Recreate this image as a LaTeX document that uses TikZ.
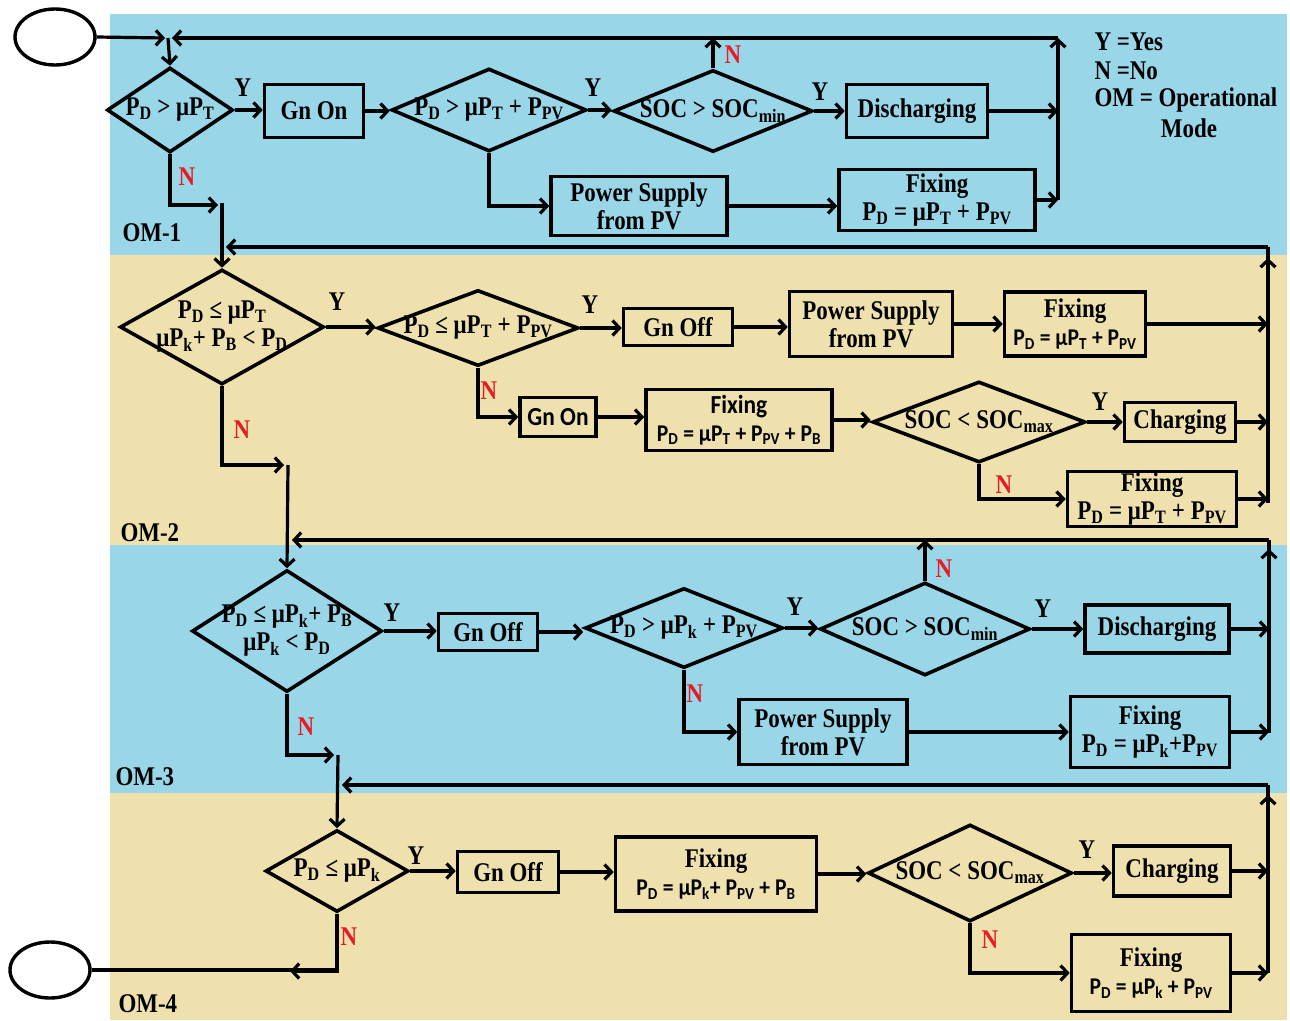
\documentclass[tikz,border=0pt]{standalone}
\usepackage{fontspec}
\setmainfont{Liberation Serif}[FakeStretch=0.85]
\newfontfamily\calfont{Carlito}[FakeStretch=0.9]
\usetikzlibrary{shapes.geometric,arrows.meta}

\definecolor{omblue}{RGB}{152,214,232}
\definecolor{omtan}{RGB}{238,225,174}
\definecolor{nored}{RGB}{228,28,36}
\newcommand{\lo}[1]{\textsubscript{#1}}
\newcommand{\calsm}{\calfont\fontsize{24}{28}\selectfont}

\begin{document}
\begin{tikzpicture}[x=1pt, y=-1pt,
  every node/.style={font=\fontsize{27}{28}\selectfont\bfseries},
  dec/.style={diamond, draw, line width=3.6pt, inner sep=0pt},
  box/.style={draw, line width=3.6pt, inner sep=0pt, align=center},
  cal/.style={font=\calfont\fontsize{26}{28}\selectfont\bfseries},
  term/.style={ellipse, draw, line width=3.4pt, minimum width=80, minimum height=56},
  arr/.style={line width=3.2pt, -{Straight Barb[length=7pt,width=15pt]}},
  ln/.style={line width=3.2pt},
  nolab/.style={text=nored}]

\useasboundingbox (0,0) rectangle (1290,1020);

% -------- bands -----------
\fill[omblue] (110,14)  rectangle (1287,255);
\fill[omtan]  (110,255) rectangle (1287,545);
\fill[omblue] (110,545) rectangle (1287,793);
\fill[omtan]  (110,793) rectangle (1287,1020);

\node[anchor=west]  (om1)  at  (119, 233) {OM-1};
\node[anchor=west]  (om2)  at  (117, 533) {OM-2};
\node[anchor=west]  (om3)  at  (112, 777) {OM-3};
\node[anchor=west]  (om4)  at  (115,1004) {OM-4};

\node[anchor=west]  (key1)  at  (1091, 42) {Y =Yes};
\node[anchor=west]  (key2)  at  (1091, 71) {N =No};
\node[anchor=west]  (key3)  at  (1091,100) {OM = Operational};
\node               (key4)  at  (1189,128) {Mode};

% -------- OM-1 -----------
\node[term]  (start)  at  (55,37) {};
\coordinate  (j1)  at  (168,38);
\coordinate  (c1top)  at  (1058,38);
\coordinate  (c1bot)  at  (1058,200);

\node[dec, minimum width=126, minimum height=85, label={center:{P\lo{D} > μP\lo{T}}}]  (d1)  at  (170,110) {};
\node[box, minimum width=99, minimum height=53]  (b1)  at  (314,111) {Gn On};
\node[dec, minimum width=195, minimum height=83, label={center:{P\lo{D} > μP\lo{T} + P\lo{PV}}}]  (d2)  at  (489,110) {};
\node[dec, minimum width=199, minimum height=82, label={center:{SOC > SOC\lo{min}}}]  (d3)  at  (713,111) {};
\node[box, minimum width=141, minimum height=53]  (b2)  at  (917,111) {Discharging};
\node[box, minimum width=176, minimum height=59]  (b3)  at  (639,206) {Power Supply\\from PV};
\node[box, minimum width=196, minimum height=61]  (b4)  at  (937,200) {Fixing\\P\lo{D} = μP\lo{T} + P\lo{PV}};

\node  (y1)  at  (243, 88) {Y};
\node  (y2)  at  (593, 88) {Y};
\node  (y3)  at  (820, 92) {Y};
\node[nolab]  (n1)  at  (733, 55) {N};
\node[nolab]  (n2)  at  (187,177) {N};

\draw   [arr]   (start.east) -- ([xshift=-3pt]j1);
\draw   [arr]   (j1) -- (d1.north);
\draw   [arr]   (d1.east) -- (d1.east -| b1.west);
\draw   [arr]   (b1.east) -- (b1.east -| d2.west);
\draw   [arr]   (d2.east) -- (d2.east -| d3.west);
\draw   [arr]   (d3.east) -- (d3.east -| b2.west);
\draw   [arr]   (d3.north) -- (d3.north |- c1top);
\draw   [arr]   (d2.south) |- (b3.west);
\draw   [arr]   (b3.east) -- (b3.east -| b4.west);
\draw   [arr]   (b2.east) -- (b2.east -| c1top);
\draw   [arr]   (b4.east) -- (b4.east -| c1top);
\draw   [arr]   (c1bot) -- (c1top);
\draw   [arr]   (c1top) -- ([xshift=4pt]j1);

% -------- OM-2 -----------
\coordinate  (j2)  at  (222,205);
\coordinate  (c2top)  at  (1268,247);
\coordinate  (c2bot)  at  (1268,503);

\node[dec, minimum width=204, minimum height=115, label={[align=center]center:{P\lo{D} ≤ μP\lo{T}\\μP\lo{k}+ P\lo{B} < P\lo{D}}}]  (d4)  at  (222,327) {};
\node[dec, minimum width=201, minimum height=76, label={center:{P\lo{D} ≤ μP\lo{T} + P\lo{PV}}}]  (d5)  at  (478,328) {};
\node[box, minimum width=109, minimum height=37]  (b5)  at  (678,327) {Gn Off};
\node[box, minimum width=163, minimum height=65]  (b6)  at  (871,324) {Power Supply\\from PV};
\node[box, minimum width=141, minimum height=64]  (b7)  at  (1075,324) {Fixing\\{\calsm P\lo{D} = μP\lo{T} + P\lo{PV}}};
\node[box, cal, minimum width=76, minimum height=39]  (b8)  at  (558,417) {Gn On};
\node[box, cal, minimum width=186, minimum height=61]  (b9)  at  (739,420) {Fixing\\{\calsm P\lo{D} = μP\lo{T} + P\lo{PV} + P\lo{B}}};
\node[dec, minimum width=213, minimum height=81, label={center:{SOC < SOC\lo{max}}}]  (d6)  at  (979,422) {};
\node[box, minimum width=111, minimum height=39]  (b10)  at  (1180,422) {Charging};
\node[box, minimum width=169, minimum height=55]  (b11)  at  (1152,499) {Fixing\\P\lo{D} = μP\lo{T} + P\lo{PV}};

\node  (y4)  at  (337,302) {Y};
\node  (y5)  at  (590,305) {Y};
\node  (y6)  at  (1100,402) {Y};
\node[nolab]  (n3)  at  (489,391) {N};
\node[nolab]  (n4)  at  (242,430) {N};
\node[nolab]  (n5)  at  (1004,485) {N};

\draw   [arr]   (d1.south) |- ([xshift=-4pt]j2);
\draw   [arr]   ([yshift=2pt]j2) -- (d4.north);
\draw   [arr]   (d4.east) -- (d4.east -| d5.west);
\draw   [arr]   (d5.east) -- (d5.east -| b5.west);
\draw   [arr]   (b5.east) -- (b5.east -| b6.west);
\draw   [arr]   (b6.east) -- (b6.east -| b7.west);
\draw   [arr]   (d5.south) |- (b8.west);
\draw   [arr]   (b8.east) -- (b8.east -| b9.west);
\draw   [arr]   (b9.east) -- (b9.east -| d6.west);
\draw   [arr]   (d6.east) -- (d6.east -| b10.west);
\draw   [arr]   (d6.south) |- (b11.west);
\draw   [arr]   (b7.east) -- (b7.east -| c2top);
\draw   [arr]   (b10.east) -- (b10.east -| c2top);
\draw   [arr]   (b11.east) -- (b11.east -| c2top);
\draw   [ln]    (c2bot) -- (c2top);
\draw   [arr]   (c2bot) -- ([yshift=-11pt]c2top);
\draw   [arr]   (c2top) -- ([xshift=4pt]c2top -| j2);

% -------- OM-3 -----------
\coordinate  (j3)  at  (288,465);
\coordinate  (c3top)  at  (1269,540);
\coordinate  (c3bot)  at  (1269,733);

\node[dec, minimum width=190, minimum height=122, label={[align=center]center:{P\lo{D} ≤ μP\lo{k}+ P\lo{B}\\μP\lo{k} < P\lo{D}}}]  (d7)  at  (287,631) {};
\node[box, minimum width=99, minimum height=37]  (b12)  at  (488,632) {Gn Off};
\node[dec, minimum width=198, minimum height=80, label={center:{P\lo{D} > μP\lo{k} + P\lo{PV}}}]  (d8)  at  (684,628) {};
\node[dec, minimum width=210, minimum height=93, label={center:{SOC > SOC\lo{min}}}]  (d9)  at  (925,629) {};
\node[box, minimum width=144, minimum height=48]  (b13)  at  (1157,629) {Discharging};
\node[box, minimum width=168, minimum height=65]  (b14)  at  (823,732) {Power Supply\\from PV};
\node[box, minimum width=159, minimum height=71]  (b15)  at  (1150,732) {Fixing\\P\lo{D} = μP\lo{k}+P\lo{PV}};

\node  (y7)  at  (392,613) {Y};
\node  (y8)  at  (795,607) {Y};
\node  (y9)  at  (1043,609) {Y};
\node[nolab]  (n6)  at  (944,569) {N};
\node[nolab]  (n7)  at  (695,694) {N};
\node[nolab]  (n8)  at  (306,727) {N};

\draw   [arr]   (d4.south) |- ([xshift=-4pt]j3);
\draw   [arr]   (j3) -- (d7.north);
\draw   [arr]   (d7.east) -- (d7.east -| b12.west);
\draw   [arr]   (b12.east) -- (b12.east -| d8.west);
\draw   [arr]   (d8.east) -- (d8.east -| d9.west);
\draw   [arr]   (d9.east) -- (d9.east -| b13.west);
\draw   [arr]   (d9.north) -- (d9.north |- c3top);
\draw   [arr]   (d8.south) |- (b14.west);
\draw   [arr]   (b14.east) -- (b14.east -| b15.west);
\draw   [arr]   (b13.east) -- (b13.east -| c3top);
\draw   [arr]   (b15.east) -- (b15.east -| c3top);
\draw   [ln]    (c3bot) -- (c3top);
\draw   [arr]   (c3bot) -- ([yshift=-9pt]c3top);
\draw   [arr]   (c3top) -- ([xshift=4pt]c3top -| j3);

% -------- OM-4 -----------
\coordinate  (j4)  at  (338,755);
\coordinate  (c4top)  at  (1268,785);
\coordinate  (c4bot)  at  (1268,973);
\coordinate  (k4)  at  (290,971);

\node[dec, minimum width=143, minimum height=82, label={center:{P\lo{D} ≤ μP\lo{k}}}]  (d10)  at  (337,871) {};
\node[box, minimum width=101, minimum height=41]  (b16)  at  (508,872) {Gn Off};
\node[box, minimum width=201, minimum height=74]  (b17)  at  (716,874) {Fixing\\{\calsm P\lo{D} = μP\lo{k}+ P\lo{PV} + P\lo{B}}};
\node[dec, minimum width=204, minimum height=97, label={center:{SOC < SOC\lo{max}}}]  (d11)  at  (970,873) {};
\node[box, minimum width=117, minimum height=50]  (b18)  at  (1172,871) {Charging};
\node[box, minimum width=159, minimum height=77]  (b19)  at  (1151,973) {Fixing\\{\calsm P\lo{D} = μP\lo{k} + P\lo{PV}}};
\node[term]  (stop)  at  (50,970) {};

\node  (y10)  at  (416,856) {Y};
\node  (y11)  at  (1087,850) {Y};
\node[nolab]  (n9)  at  (349,937) {N};
\node[nolab]  (n10)  at  (990,940) {N};

\draw   [arr]   (d7.south) |- ([xshift=-4pt]j4);
\draw   [arr]   (j4) -- (d10.north);
\draw   [arr]   (d10.east) -- (d10.east -| b16.west);
\draw   [arr]   (b16.east) -- (b16.east -| b17.west);
\draw   [arr]   (b17.east) -- (b17.east -| d11.west);
\draw   [arr]   (d11.east) -- (d11.east -| b18.west);
\draw   [arr]   (d11.south) |- (b19.west);
\draw   [arr]   (b18.east) -- (b18.east -| c4top);
\draw   [arr]   (b19.east) -- (b19.east -| c4top);
\draw   [ln]    (c4bot) -- (c4top);
\draw   [arr]   (c4bot) -- ([yshift=-10pt]c4top);
\draw   [arr]   (c4top) -- ([xshift=4pt]c4top -| j4);
\draw   [ln]    (d10.south) |- (stop.east);
\draw   [arr]   (d10.south) |- (k4);

\end{tikzpicture}
\end{document}
